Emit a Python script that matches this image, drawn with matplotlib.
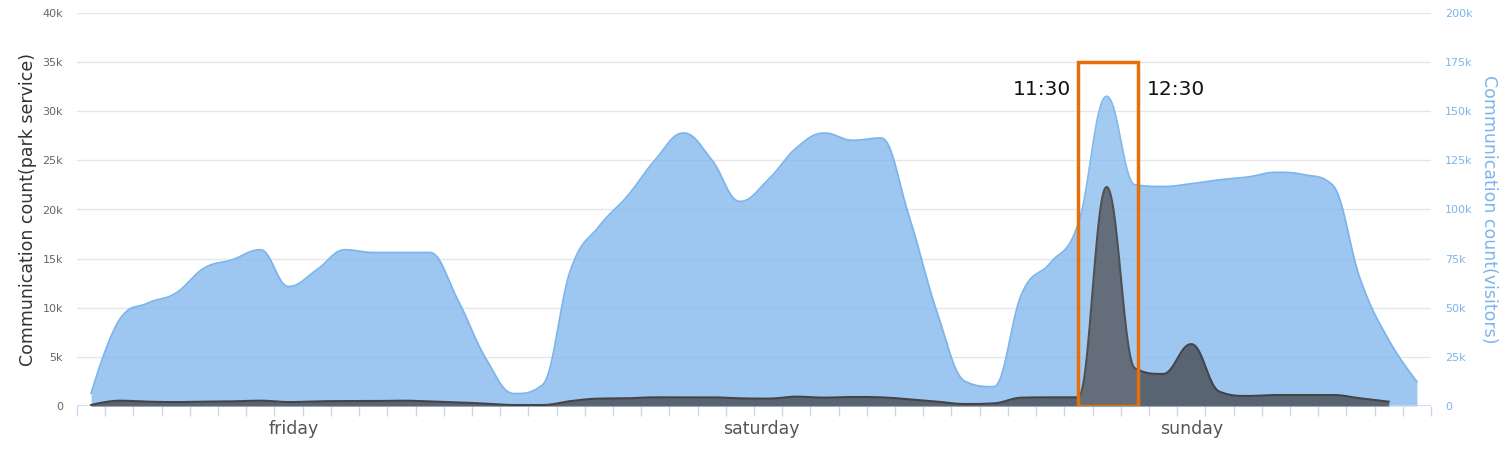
import numpy as np
import matplotlib
matplotlib.use('Agg')
import matplotlib.pyplot as plt
from matplotlib.patches import Rectangle
from matplotlib.ticker import FuncFormatter, MultipleLocator

# visitors (right axis), one value per half hour slot, 16 slots per day
visitors = [6500, 43800, 52300, 57400, 70100, 74400, 79500, 60800, 69300, 79500, 78100, 78100, 78100, 54000, 24000, 6300,
            10700, 69300, 91300, 106600, 125300, 138900, 125300, 104100, 115100, 131300, 138900, 135200, 136400, 96400, 47200, 12400,
            9800, 57400, 72700, 93000, 157600, 112600, 111700, 113100, 115100, 116500, 118900, 117700, 112600, 64200, 33600, 12400]

# park service (left axis), last slot has no value
park_service = [100, 540, 440, 400, 440, 470, 540, 400, 470, 500, 500, 540, 470, 370, 240, 100,
                100, 500, 750, 780, 880, 880, 880, 780, 750, 950, 850, 920, 880, 680, 440, 200,
                270, 850, 880, 880, 22300, 3840, 3260, 6300, 1460, 1020, 1120, 1120, 1120, 780, 440]

day_labels = ['friday', 'saturday', 'sunday']
day_label_pos = [7.2, 23.75, 39.0]

highlight_span = (35.0, 37.1)
highlight_top = 35000
highlight_texts = ['11:30', '12:30']
highlight_text_pos = [33.7, 38.45]


def hc_spline(values, smoothing=1.5, n=24):
    # Bezier spline the way Highcharts draws an areaspline
    y = np.asarray(values, dtype=float)
    x = np.arange(len(y), dtype=float)
    N = len(y)
    lc = np.column_stack([x, y]).copy()
    rc = lc.copy()
    d = smoothing + 1
    for i in range(1, N - 1):
        px, py = x[i], y[i]
        lx, ly = x[i - 1], y[i - 1]
        nx, ny = x[i + 1], y[i + 1]
        lcx = (smoothing * px + lx) / d
        lcy = (smoothing * py + ly) / d
        rcx = (smoothing * px + nx) / d
        rcy = (smoothing * py + ny) / d
        corr = ((rcy - lcy) * (rcx - px)) / (rcx - lcx) + py - rcy
        lcy += corr
        rcy += corr
        if lcy > ly and lcy > py:
            lcy = max(ly, py)
            rcy = 2 * py - lcy
        elif lcy < ly and lcy < py:
            lcy = min(ly, py)
            rcy = 2 * py - lcy
        if rcy > ny and rcy > py:
            rcy = max(ny, py)
            lcy = 2 * py - rcy
        elif rcy < ny and rcy < py:
            rcy = min(ny, py)
            lcy = 2 * py - rcy
        lc[i] = (lcx, lcy)
        rc[i] = (rcx, rcy)
    t = np.linspace(0, 1, n)[:, None]
    pts = []
    for i in range(1, N):
        p0 = np.array([x[i - 1], y[i - 1]])
        p3 = np.array([x[i], y[i]])
        p1, p2 = rc[i - 1], lc[i]
        seg = (1 - t) ** 3 * p0 + 3 * (1 - t) ** 2 * t * p1 + 3 * (1 - t) * t ** 2 * p2 + t ** 3 * p3
        pts.append(seg if i == 1 else seg[1:])
    pts = np.vstack(pts)
    return pts[:, 0], pts[:, 1]


fig = plt.figure(figsize=(15.12, 4.57), dpi=100)
ax = fig.add_axes([77 / 1512, 51 / 457, 1354 / 1512, 393 / 457])
ax2 = ax.twinx()
ax.set_zorder(ax2.get_zorder() + 1)
ax.patch.set_visible(False)

n_slots = len(visitors)
for a in (ax, ax2):
    a.set_xlim(-0.5, n_slots - 0.5)
    for s in a.spines.values():
        s.set_visible(False)
ax.set_ylim(0, 40000)
ax2.set_ylim(0, 200000)

# grid behind the areas
ax2.yaxis.set_major_locator(MultipleLocator(25000))
ax2.yaxis.grid(True, color='#e6e6e6', linewidth=1)
ax2.set_axisbelow(True)

bx, by = hc_spline(visitors)
ax2.fill_between(bx, 0, by, color='#7cb5ec', alpha=0.75, linewidth=0, zorder=2)
ax2.plot(bx, by, color='#7cb5ec', linewidth=1.3, zorder=3)

dx, dy = hc_spline(park_service)
ax.fill_between(dx, 0, dy, color='#434348', alpha=0.75, linewidth=0, zorder=2)
ax.plot(dx, dy, color='#434348', linewidth=1.5, zorder=3)

# highlighted hour
ax.add_patch(Rectangle((highlight_span[0], 0), highlight_span[1] - highlight_span[0], highlight_top,
                       facecolor='white', alpha=0.07, edgecolor='none', zorder=4))
ax.add_patch(Rectangle((highlight_span[0], 0), highlight_span[1] - highlight_span[0], highlight_top,
                       facecolor='none', edgecolor='#e66f0c', linewidth=2.5, zorder=5))
for txt, xp in zip(highlight_texts, highlight_text_pos):
    ax.text(xp, 32200, txt, ha='center', va='center', fontsize=14.5, color='#111111', zorder=6)

# x axis line and ticks
ax.axhline(0, color='#ccd6eb', linewidth=1.2, zorder=1)
ax.set_xticks(np.arange(-0.5, n_slots, 1.0), minor=True)
ax.tick_params(axis='x', which='minor', length=7, color='#ccd6eb', width=1)
ax.set_xticks(day_label_pos)
ax.set_xticklabels(day_labels, fontsize=12.5, color='#555555')
ax.tick_params(axis='x', which='major', length=0, pad=10)
ax2.tick_params(axis='x', which='both', length=0)

kfmt = FuncFormatter(lambda v, p: '0' if v == 0 else f'{int(v / 1000)}k')
ax.yaxis.set_major_locator(MultipleLocator(5000))
ax.yaxis.set_major_formatter(kfmt)
ax.tick_params(axis='y', length=0, pad=10, labelsize=8, labelcolor='#666666')
ax2.yaxis.set_major_formatter(kfmt)
ax2.tick_params(axis='y', length=0, pad=10, labelsize=8, labelcolor='#7cb5ec')

ax.set_ylabel('Communication count(park service)', fontsize=12.5, color='#333333', labelpad=4)
ax2.set_ylabel('Communication count(visitors)', fontsize=12.5, color='#7cb5ec', rotation=-90, labelpad=18)

fig.savefig('out.png', dpi=100)
